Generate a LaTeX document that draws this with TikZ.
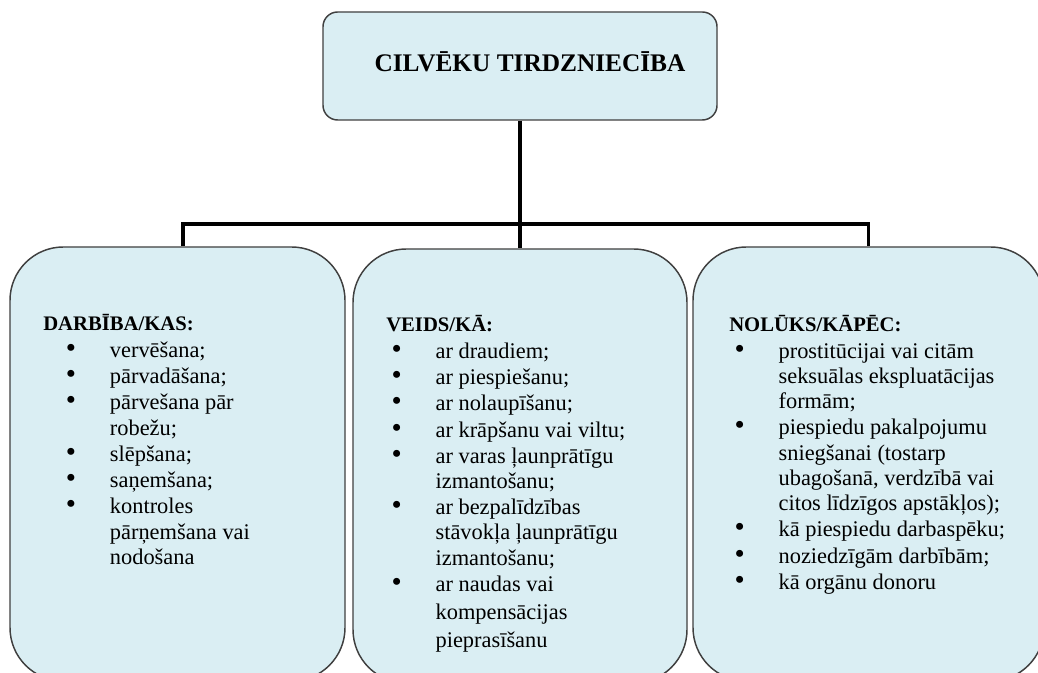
\documentclass[tikz,border=0pt]{standalone}
\usepackage{fontspec}
\setmainfont{Liberation Serif}
\definecolor{boxblue}{HTML}{DAEEF3}
\definecolor{boxline}{HTML}{404040}
% bullet item: #1 bullet indent, #2 text indent
\newcommand{\itm}[2]{\par\hangindent=#2\hangafter=1\hspace*{#1}\makebox[\dimexpr#2-#1\relax][l]{\scalebox{1.3}{\textbullet}}}
\newcommand{\ditem}{\itm{17pt}{50pt}}
\newcommand{\vitem}{\itm{4pt}{37pt}}
\newcommand{\colhead}[1]{{\fontsize{15.5}{18.9}\selectfont\bfseries #1}}
\tikzset{
  topbox/.style={draw=boxline, line width=1.1pt, fill=boxblue, rounded corners=11pt,
    minimum width=295.5pt, minimum height=81pt},
  colbox/.style={draw=boxline, line width=1.1pt, fill=boxblue, rounded corners=40pt,
    minimum height=325.5pt},
  link/.style={line width=2.8pt},
  listtxt/.style={anchor=base west, inner sep=0pt, font=\fontsize{16.8}{18.9}\selectfont}
}

\begin{document}
\begin{tikzpicture}[x=0.75pt, y=-0.75pt]
\clip (0,0) rectangle (1038,673);
\fill[white] (0,0) rectangle (1038,673);
% title
\node[topbox] (title) at (520,66) {};
\node[anchor=base, inner sep=0pt, font=\fontsize{19}{22}\selectfont\bfseries] (titletxt) at (530,72) {CILVĒKU TIRDZNIECĪBA};
% columns
\node[colbox, minimum width=251.25pt] (darb) at (177.5,464) {};
\node[colbox, minimum width=250.5pt] (veids) at (520,466) {};
\node[colbox, minimum width=263.25pt] (nol) at (868.5,464) {};
% connectors
\coordinate (bus) at (520,224);
\draw[link] (title.south) -- (veids.north);
\draw[link] ([xshift=4pt]darb.north) |- (bus) -| (nol.north);
% texts
\node[listtxt] (darbtxt) at (43,331) {\parbox[t]{240pt}{\parindent=0pt\parskip=0.8pt
\colhead{DARBĪBA/KAS:}
\ditem vervēšana;
\ditem pārvadāšana;
\ditem pārvešana pār\\robežu;
\ditem slēpšana;
\ditem saņemšana;
\ditem kontroles\\pārņemšana vai\\nodošana}};
\node[listtxt] (veidstxt) at (386,332) {\parbox[t]{240pt}{\parindent=0pt\parskip=0.8pt
\colhead{VEIDS/KĀ:}
\vitem ar draudiem;
\vitem ar piespiešanu;
\vitem ar nolaupīšanu;
\vitem ar krāpšanu vai viltu;
\vitem ar varas ļaunprātīgu\\izmantošanu;
\vitem ar bezpalīdzības\\stāvokļa ļaunprātīgu\\izmantošanu;
\vitem ar naudas vai\\[2.2pt]kompensācijas\\[2.2pt]pieprasīšanu}};
\node[listtxt] (noltxt) at (729,332) {\parbox[t]{280pt}{\parindent=0pt\parskip=0.8pt
\colhead{NOLŪKS/KĀPĒC:}
\vitem prostitūcijai vai citām\\seksuālas ekspluatācijas\\formām;
\vitem piespiedu pakalpojumu\\sniegšanai (tostarp\\ubagošanā, verdzībā vai\\citos līdzīgos apstākļos);
\vitem kā piespiedu darbaspēku;
\vitem noziedzīgām darbībām;
\vitem kā orgānu donoru}};
\end{tikzpicture}
\end{document}
